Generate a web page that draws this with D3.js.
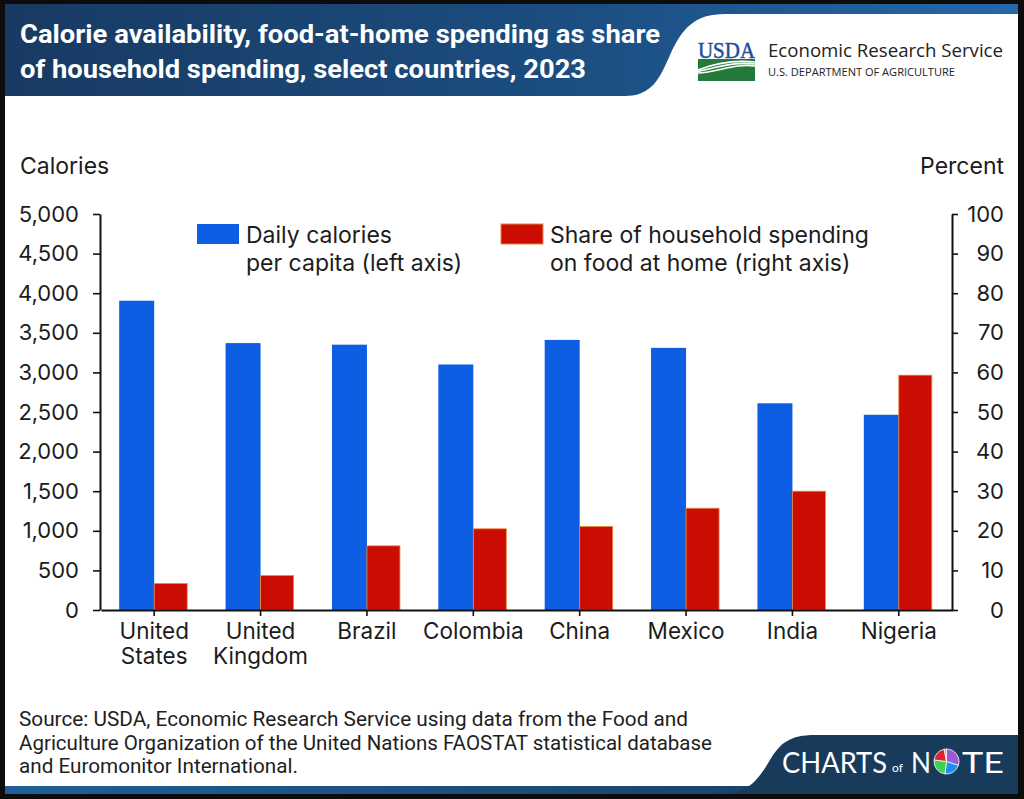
<!DOCTYPE html>
<html>
<head>
<meta charset="utf-8">
<script src="https://cdn.jsdelivr.net/npm/d3@7"></script>
<style>
body { margin: 0; background: #fff; }
svg { display: block; }
</style>
</head>
<body>
<div id="chart"></div>
<script>
// Data
const countries = ["United States", "United Kingdom", "Brazil", "Colombia", "China", "Mexico", "India", "Nigeria"]
const calories = [3905, 3370, 3350, 3100, 3410, 3310, 2610, 2465]
const foodShare = [6.7, 8.7, 16.2, 20.5, 21.1, 25.7, 30.0, 59.3]
const calorieTicks = [0, 500, 1000, 1500, 2000, 2500, 3000, 3500, 4000, 4500, 5000]
const percentTicks = [0, 10, 20, 30, 40, 50, 60, 70, 80, 90, 100]
const titleLines = ["Calorie availability, food-at-home spending as share",
    "of household spending, select countries, 2023"]
const legendLabels = [["Daily calories", "per capita (left axis)"],
    ["Share of household spending", "on food at home (right axis)"]]
const sourceLines = ["Source: USDA, Economic Research Service using data from the Food and",
    "Agriculture Organization of the United Nations FAOSTAT statistical database",
    "and Euromonitor International."]
// slices of the little pie in the "Charts of Note" logo
const logoSlices = [30, 22, 25, 20, 3]
const logoColors = ["#9b59d9", "#1e8ff0", "#3fd24a", "#d8262b", "#f38b1e"]

const W = 1024, H = 799
const blue = "#0e5ee4", red = "#cb0c02"
const ink = "#1c1c1c"
const font = "Inter, 'Noto Sans', sans-serif"

const svg = d3.select("#chart").append("svg")
    .attr("width", W).attr("height", H)
    .attr("font-family", font)

const defs = svg.append("defs")
const hg = defs.append("linearGradient").attr("id", "hdr")
hg.append("stop").attr("offset", "0%").attr("stop-color", "#183a62")
hg.append("stop").attr("offset", "55%").attr("stop-color", "#1b4d80")
hg.append("stop").attr("offset", "100%").attr("stop-color", "#2468aa")
const fg = defs.append("linearGradient").attr("id", "ftr")
fg.append("stop").attr("offset", "0%").attr("stop-color", "#1f5f98")
fg.append("stop").attr("offset", "100%").attr("stop-color", "#173a5c")

// Frame
svg.append("rect").attr("width", W).attr("height", H).attr("fill", "#0c0c0c")
svg.append("rect").attr("x", 5).attr("y", 4).attr("width", 1013).attr("height", 783)
    .attr("fill", "#fff")

// Header band and white logo panel
svg.append("rect").attr("x", 5).attr("y", 4).attr("width", 1013).attr("height", 92)
    .attr("fill", "url(#hdr)")
svg.append("path")
    .attr("d", "M625,96 C652,96 660,78 670,55 C682,28 695,14 725,14 L1018,14 L1018,97 L625,97 Z")
    .attr("fill", "#fff")

svg.append("g").selectAll("text")
    .data(titleLines)
    .join("text")
    .attr("x", 20)
    .attr("y", (d, i) => 43 + i * 35)
    .attr("textLength", (d, i) => i === 0 ? 640 : 566)
    .attr("lengthAdjust", "spacingAndGlyphs")
    .attr("fill", "#fff")
    .attr("font-family", "Roboto, sans-serif")
    .attr("font-weight", 700)
    .attr("font-size", 26)
    .text(d => d)

// USDA logo
const logo = svg.append("g")
logo.append("text")
    .attr("x", 698).attr("y", 57.5)
    .attr("textLength", 57).attr("lengthAdjust", "spacingAndGlyphs")
    .attr("font-family", "'Liberation Serif', serif")
    .attr("font-size", 23)
    .attr("fill", "#1d4f9c")
    .attr("stroke", "#1d4f9c")
    .attr("stroke-width", 0.5)
    .text("USDA")
logo.append("rect").attr("x", 698).attr("y", 59).attr("width", 57).attr("height", 22)
    .attr("fill", "#237a3a")
logo.selectAll("path.swoosh")
    .data([0, 5, 10])
    .join("path")
    .attr("class", "swoosh")
    .attr("d", d => `M698,${70 + d * 0.3} C718,${62 + d} 735,${60 + d * 0.3} 755,${62 + d * 0.4}`)
    .attr("fill", "none")
    .attr("stroke", "#fff")
    .attr("stroke-width", 1.6)
logo.append("text")
    .attr("x", 768).attr("y", 57)
    .attr("textLength", 235).attr("lengthAdjust", "spacingAndGlyphs")
    .attr("font-family", "'Open Sans', sans-serif")
    .attr("font-size", 18)
    .attr("fill", "#222")
    .text("Economic Research Service")
logo.append("text")
    .attr("x", 768).attr("y", 76)
    .attr("textLength", 187).attr("lengthAdjust", "spacingAndGlyphs")
    .attr("font-family", "'Open Sans', sans-serif")
    .attr("font-size", 10.5)
    .attr("fill", "#222")
    .text("U.S. DEPARTMENT OF AGRICULTURE")

// Scales
const x = d3.scaleBand().domain(countries).range([101, 952])
const yLeft = d3.scaleLinear().domain([0, 5000]).range([610, 214])
const yRight = d3.scaleLinear().domain([0, 100]).range([610, 214])
const blueW = 35, redW = 33
const cx = c => x(c) + x.bandwidth() / 2

// Bars
svg.append("g").selectAll("rect")
    .data(countries)
    .join("rect")
    .attr("x", d => cx(d) - blueW)
    .attr("y", (d, i) => yLeft(calories[i]))
    .attr("width", blueW)
    .attr("height", (d, i) => yLeft(0) - yLeft(calories[i]))
    .attr("fill", blue)

svg.append("g").selectAll("rect")
    .data(countries)
    .join("rect")
    .attr("x", d => cx(d))
    .attr("y", (d, i) => yRight(foodShare[i]))
    .attr("width", redW)
    .attr("height", (d, i) => yRight(0) - yRight(foodShare[i]))
    .attr("fill", red)
    .attr("stroke", "#e58a3c")
    .attr("stroke-width", 0.8)

// Axes
function styleAxis(g) {
    g.select(".domain").attr("stroke", "#111").attr("stroke-width", 2)
    g.selectAll(".tick line").attr("stroke", "#111").attr("stroke-width", 1.6)
    g.selectAll(".tick text").attr("fill", ink).attr("font-size", 22)
        .attr("font-family", font)
}

svg.append("g")
    .attr("transform", "translate(0,610)")
    .call(d3.axisBottom(x).tickSize(6).tickSizeOuter(0))
    .call(styleAxis)
    .call(g => g.selectAll(".tick text").attr("font-size", 22.5).each(function (d) {
        const t = d3.select(this).attr("dy", null).attr("y", null).text(null)
        const words = d.split(" ")
        words.forEach((w, i) => {
            t.append("tspan").attr("x", 0).attr("y", 29 + i * 25).text(w)
        })
    }))

svg.append("g")
    .attr("transform", "translate(100,0)")
    .call(d3.axisLeft(yLeft).tickValues(calorieTicks).tickSize(7).tickPadding(14)
        .tickSizeOuter(0).tickFormat(d3.format(",")))
    .call(styleAxis)

svg.append("g")
    .attr("transform", "translate(952,0)")
    .call(d3.axisRight(yRight).tickValues(percentTicks).tickSize(6).tickSizeOuter(0))
    .call(styleAxis)
    .call(g => g.selectAll(".tick text").attr("x", 52).attr("text-anchor", "end"))

// Axis titles
svg.append("text").attr("x", 20).attr("y", 174)
    .attr("font-size", 23).attr("fill", ink).text("Calories")
svg.append("text").attr("x", 1004).attr("y", 174).attr("text-anchor", "end")
    .attr("font-size", 23).attr("fill", ink).text("Percent")

// Legend
const legend = svg.append("g").selectAll("g")
    .data(legendLabels)
    .join("g")
    .attr("transform", (d, i) => `translate(${i === 0 ? 197 : 501},224)`)
legend.append("rect")
    .attr("width", 42).attr("height", 20)
    .attr("fill", (d, i) => i === 0 ? blue : red)
    .attr("stroke", (d, i) => i === 0 ? "none" : "#e58a3c")
    .attr("stroke-width", 1)
legend.append("text")
    .attr("font-size", 23).attr("fill", ink)
    .selectAll("tspan")
    .data(d => d)
    .join("tspan")
    .attr("x", 49)
    .attr("y", (d, i) => 19 + i * 28)
    .text(d => d)

// Source note
svg.append("g").selectAll("text")
    .data(sourceLines)
    .join("text")
    .attr("x", 19)
    .attr("y", (d, i) => 726 + i * 23.5)
    .attr("font-family", "Roboto, sans-serif")
    .attr("font-size", 19.5)
    .attr("textLength", (d, i) => [669, 693, 279][i])
    .attr("lengthAdjust", "spacingAndGlyphs")
    .attr("fill", "#1e1e1e")
    .text(d => d)

// Footer strip and "Charts of Note" panel
svg.append("rect").attr("x", 5).attr("y", 786).attr("width", 1013).attr("height", 8)
    .attr("fill", "url(#ftr)")
svg.append("path")
    .attr("d", "M722,794 C748,794 758,780 770,760 C780,743 790,735 815,735 L1018,735 L1018,794 Z")
    .attr("fill", "#183a5b")

const con = svg.append("g").attr("fill", "#fff").attr("font-family", "Lato, sans-serif")
con.append("text").attr("x", 782).attr("y", 773)
    .attr("font-size", 29).attr("textLength", 105).attr("lengthAdjust", "spacingAndGlyphs")
    .text("CHARTS")
con.append("text").attr("x", 892).attr("y", 772)
    .attr("font-size", 12).text("of")
con.append("text").attr("x", 911).attr("y", 773)
    .attr("font-size", 29).attr("textLength", 20).attr("lengthAdjust", "spacingAndGlyphs")
    .text("N")
con.append("text").attr("x", 962).attr("y", 773)
    .attr("font-size", 29).attr("textLength", 42).attr("lengthAdjust", "spacingAndGlyphs")
    .text("TE")

const pie = d3.pie().sort(null)(logoSlices)
const arc = d3.arc().innerRadius(0).outerRadius(12.5)
svg.append("g")
    .attr("transform", "translate(946.5,761.5)")
    .selectAll("path")
    .data(pie)
    .join("path")
    .attr("d", arc)
    .attr("fill", (d, i) => logoColors[i])
    .attr("stroke", "#fff")
    .attr("stroke-width", 0.8)
</script>
</body>
</html>
